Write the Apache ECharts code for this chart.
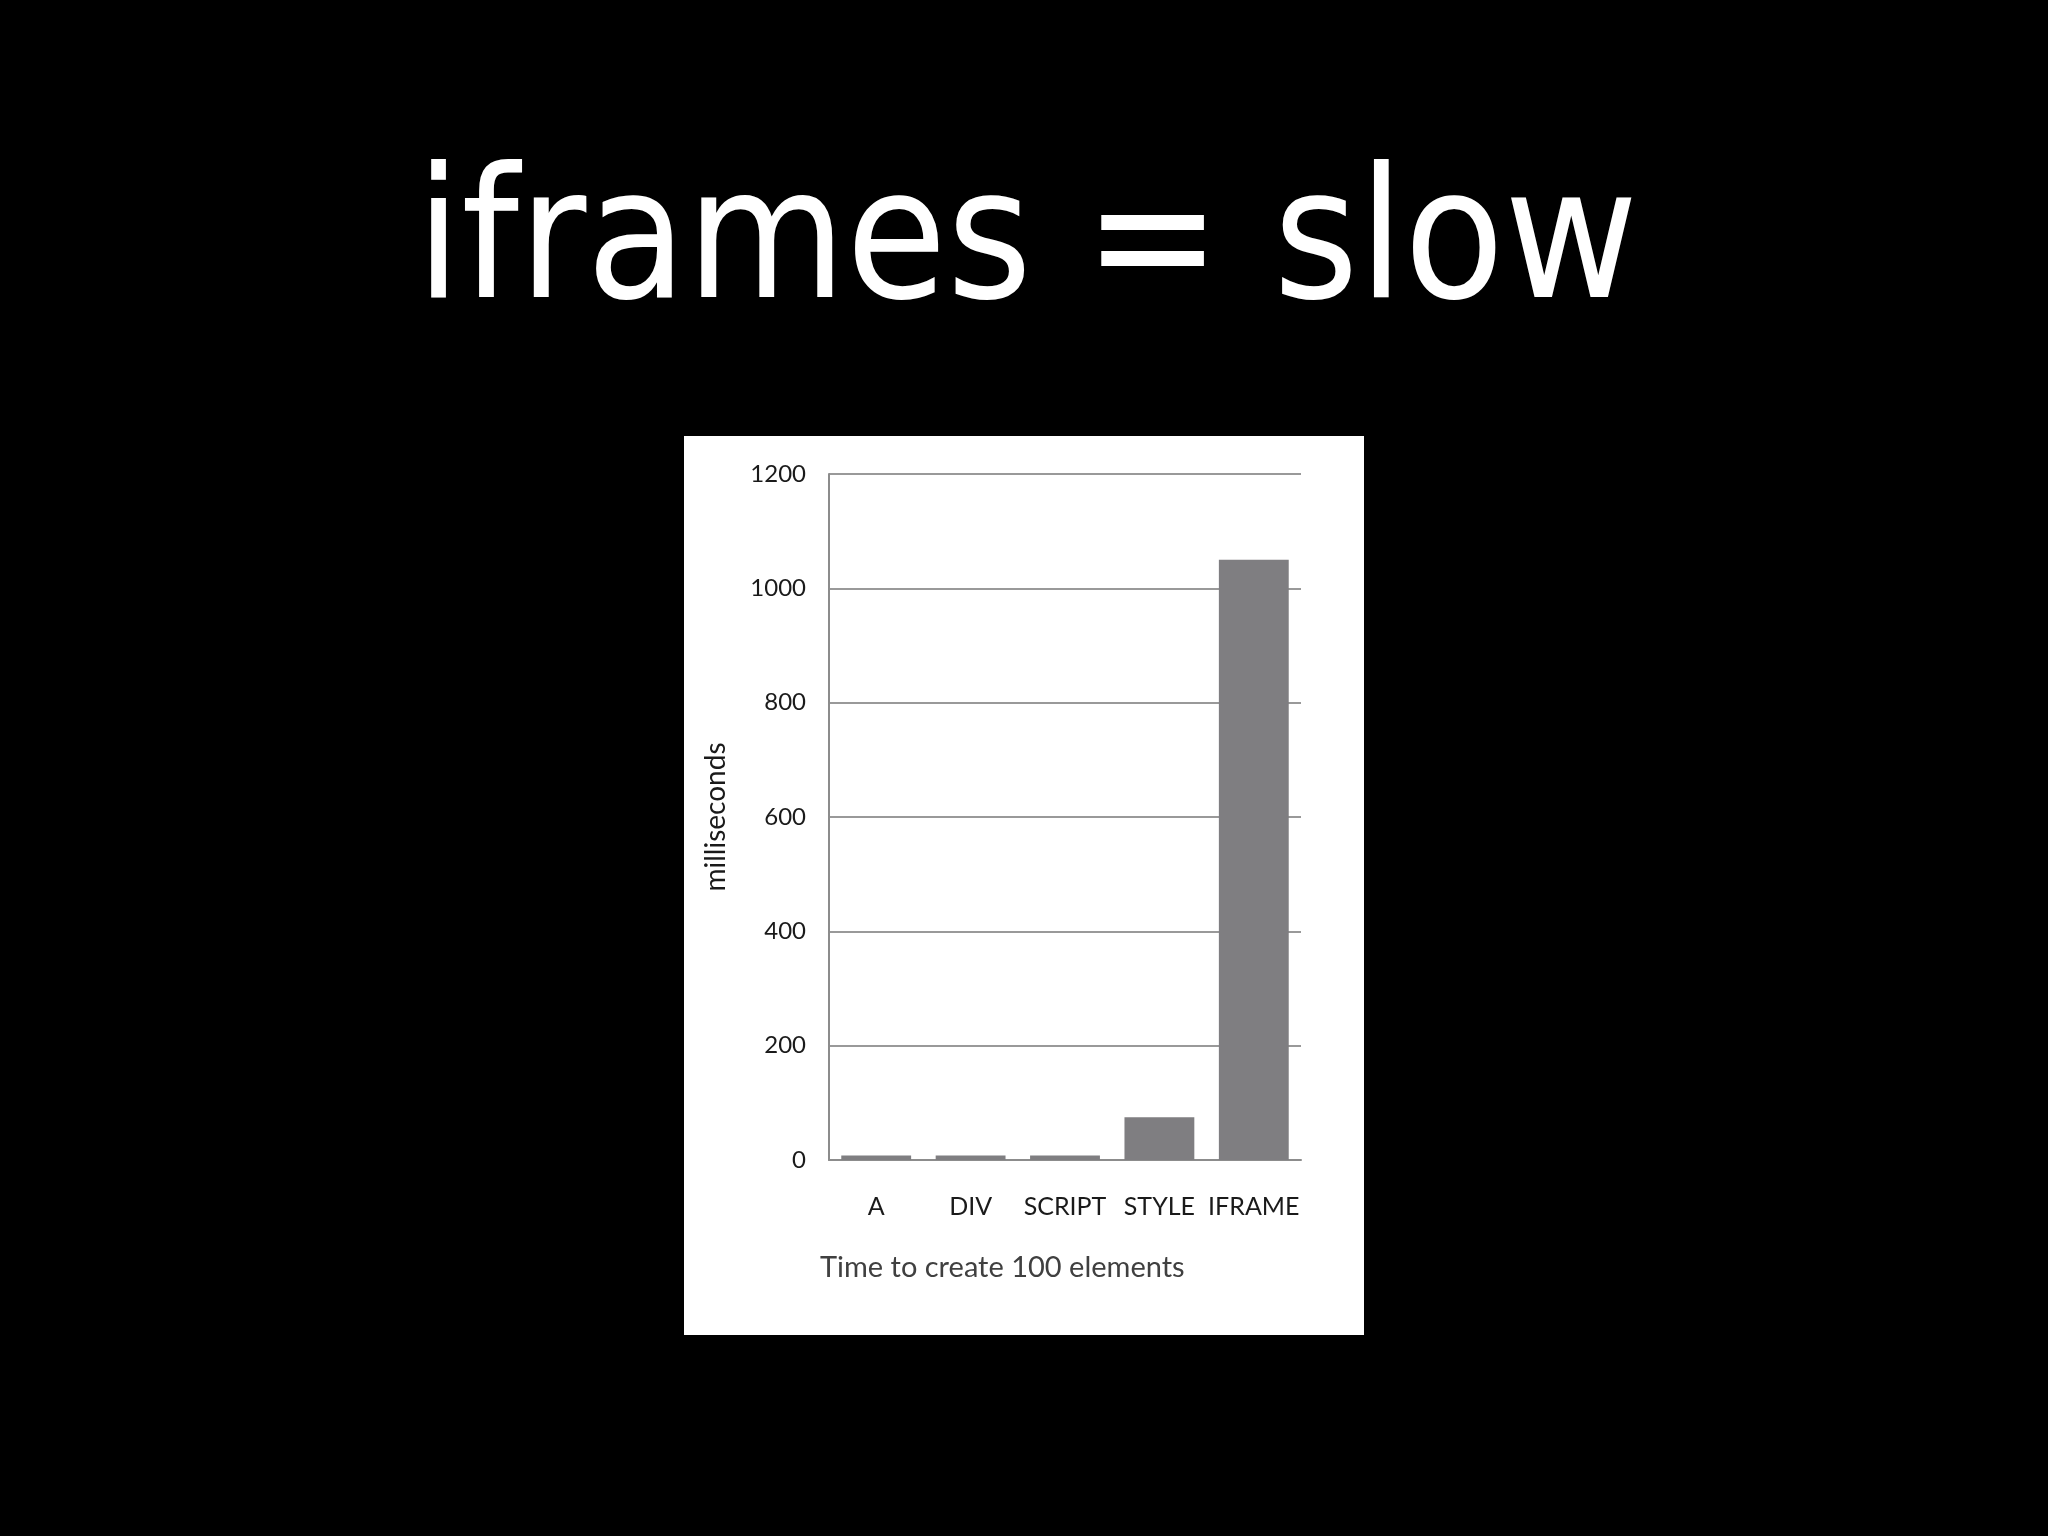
<!DOCTYPE html>
<html>
<head>
<meta charset="utf-8">
<script src="https://cdn.jsdelivr.net/npm/echarts@6/dist/echarts.min.js"></script>
<style>
  html, body { margin: 0; padding: 0; background: #000; }
  #chart { width: 2048px; height: 1536px; }
</style>
</head>
<body>
<div id="chart"></div>
<script>
const categories = ['A', 'DIV', 'SCRIPT', 'STYLE', 'IFRAME'];
const timesMs = [8, 8, 8, 75, 1050];
const slideTitle = 'iframes = slow';
const yAxisName = 'milliseconds';
const xAxisCaption = 'Time to create 100 elements';

const chart = echarts.init(document.getElementById('chart'), null, { renderer: 'canvas' });
const chartFont = 'Lato';
chart.setOption({
  backgroundColor: '#000000',
  animation: false,
  graphic: [
    {
      type: 'rect', z: -10,
      shape: { x: 684, y: 436, width: 680, height: 899 },
      style: { fill: '#ffffff' }
    },
    {
      type: 'text', z: 10,
      x: 1027, y: 250,
      style: {
        text: slideTitle, fill: '#ffffff',
        font: '182px "DejaVu Sans Condensed"',
        textAlign: 'center', textVerticalAlign: 'middle'
      }
    },
    {
      type: 'text', z: 10,
      x: 820, y: 1268,
      style: {
        text: xAxisCaption, fill: '#404040',
        font: '29px ' + chartFont,
        textAlign: 'left', textVerticalAlign: 'middle'
      }
    }
  ],
  grid: { left: 829, right: 747, top: 474, bottom: 376, containLabel: false },
  xAxis: {
    type: 'category',
    data: categories,
    axisLine: { show: true, lineStyle: { color: '#8c8c8c', width: 2 } },
    axisTick: { show: false },
    axisLabel: { color: '#1a1a1a', fontSize: 25, fontFamily: chartFont, margin: 34, interval: 0 }
  },
  yAxis: {
    type: 'value',
    min: 0, max: 1200, interval: 200,
    name: yAxisName,
    nameLocation: 'middle',
    nameRotate: 90,
    nameGap: 99,
    nameTextStyle: { color: '#1a1a1a', fontSize: 28, fontFamily: chartFont },
    axisLine: { show: true, lineStyle: { color: '#8c8c8c', width: 2 } },
    axisTick: { show: false },
    axisLabel: { color: '#1a1a1a', fontSize: 24, fontFamily: chartFont, margin: 23, formatter: function (v) { return String(v); } },
    splitLine: { show: true, lineStyle: { color: '#999999', width: 2 } }
  },
  series: [{
    type: 'bar',
    data: timesMs,
    barCategoryGap: '26%',
    itemStyle: { color: '#7f7e81' }
  }]
});
</script>
</body>
</html>
